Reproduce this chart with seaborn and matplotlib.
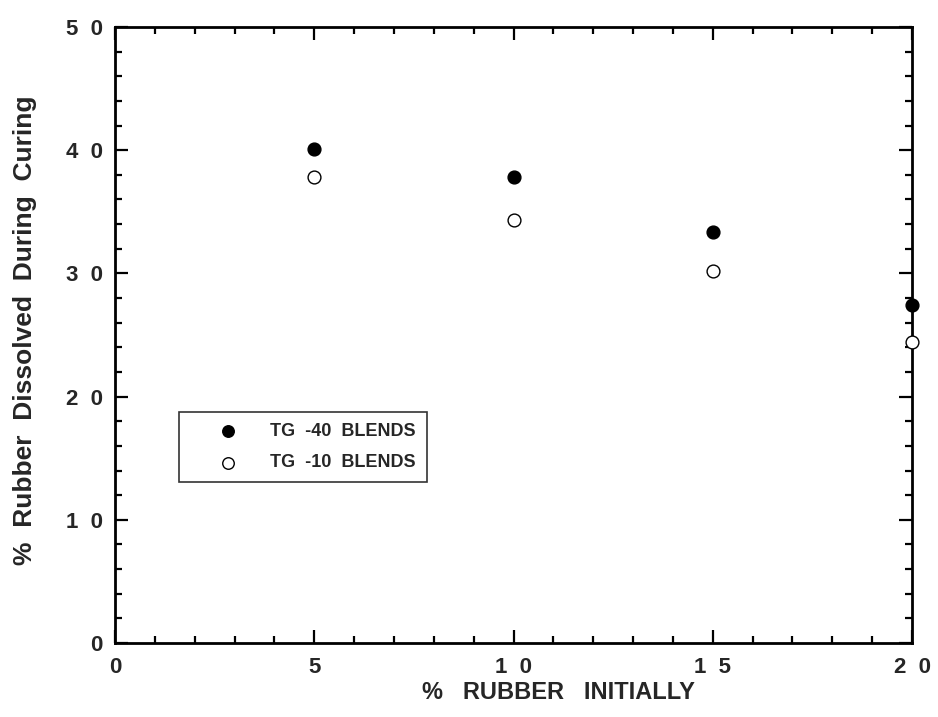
import matplotlib
matplotlib.use("Agg")
import matplotlib.pyplot as plt
import pandas as pd
import seaborn as sns
from matplotlib.ticker import MultipleLocator

rubber_initial = [5, 10, 15, 20]
tg40_dissolved = [40.1, 37.8, 33.4, 27.4]
tg10_dissolved = [37.8, 34.3, 30.2, 24.4]
series_labels = ["TG  -40  BLENDS", "TG  -10  BLENDS"]
x_ticks = [0, 5, 10, 15, 20]
y_ticks = [0, 10, 20, 30, 40, 50]

df = pd.DataFrame({
    "x": rubber_initial * 2,
    "y": tg40_dissolved + tg10_dissolved,
    "blend": [series_labels[0]] * 4 + [series_labels[1]] * 4,
})

sns.set_theme(style="ticks")
plt.rcParams["font.family"] = ["Liberation Sans", "DejaVu Sans"]
plt.rcParams["font.weight"] = "bold"

fig = plt.figure(figsize=(9.38, 7.17), dpi=100)
ax = fig.add_axes([115 / 938, 1 - 643 / 717, (912 - 115) / 938, (643 - 27) / 717])

for lab, fc in zip(series_labels, ["black", "white"]):
    sub = df[df["blend"] == lab]
    sns.scatterplot(data=sub, x="x", y="y", ax=ax, s=85, color=fc,
                    edgecolor="black", linewidth=1, label=lab, clip_on=False, zorder=5)

ax.set_xlim(0, 20)
ax.set_ylim(0, 50)
ax.set_xticks(x_ticks)
ax.set_yticks(y_ticks)
# tick labels in the original are letter-spaced, e.g. "5 0"
ax.set_xticklabels(["  ".join(str(v)) for v in x_ticks], fontsize=16, fontweight="bold")
ax.set_yticklabels(["  ".join(str(v)) for v in y_ticks], fontsize=16, fontweight="bold")
ax.xaxis.set_minor_locator(MultipleLocator(1))
ax.yaxis.set_minor_locator(MultipleLocator(2))
ax.tick_params(which="both", direction="in", top=True, right=True, width=1.6, color="black")
ax.tick_params(which="major", length=9.5)
ax.tick_params(which="minor", length=5)
ax.tick_params(axis="x", which="major", pad=10)
ax.tick_params(axis="y", which="major", pad=9)
for sp in ax.spines.values():
    sp.set_linewidth(2)
    sp.set_color("black")

ax.set_xlabel("%   RUBBER   INITIALLY", fontsize=17, fontweight="bold")
ax.xaxis.set_label_coords(0.556, -0.061)
ax.set_ylabel("%  Rubber  Dissolved  During  Curing", fontsize=19, fontweight="bold")
ax.yaxis.set_label_coords(-0.098, 0.508)

leg = ax.legend(loc="upper left", bbox_to_anchor=(64 / 797, (643 - 412) / 616),
                frameon=True, fancybox=False, prop={"weight": "bold", "size": 13},
                borderpad=0.6, handletextpad=0.25, labelspacing=0.8, markerscale=0.9,
                borderaxespad=0, handlelength=4.2)
leg.get_frame().set_edgecolor("black")
leg.get_frame().set_linewidth(1.2)

fig.savefig("out.png", dpi=100, facecolor="white")
